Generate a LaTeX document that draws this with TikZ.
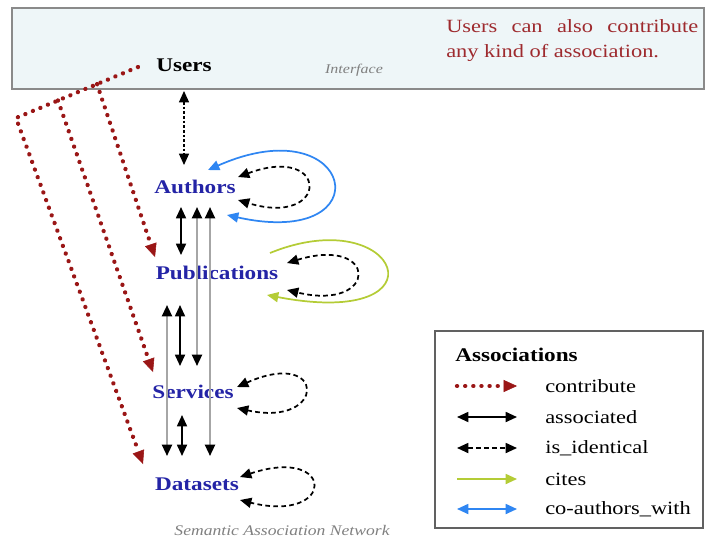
\documentclass[tikz,border=0pt]{standalone}
\usepackage{fontspec}
\setmainfont{Liberation Serif}[FakeStretch=1.2]
\usepackage{tikz}
\usetikzlibrary{calc,arrows.meta}
\definecolor{boxfill}{HTML}{EEF6F8}
\definecolor{boxline}{HTML}{8A8A8A}
\definecolor{entblue}{HTML}{2424A6}
\definecolor{notered}{HTML}{9E2A2E}
\definecolor{contribred}{HTML}{9A1616}
\definecolor{coblue}{HTML}{2F86F2}
\definecolor{citegreen}{HTML}{B4CC36}
\tikzset{
  >={Triangle[length=8.5pt,width=7.5pt]},
  entity/.style={font=\fontsize{14.5}{17}\selectfont\bfseries,text=entblue,inner sep=1pt},
  caption/.style={font=\fontsize{10}{12}\selectfont\itshape,text=gray},
  legend/.style={font=\fontsize{14}{17}\selectfont,anchor=west,inner sep=0pt},
  assoc/.style={<->,line width=1.3pt},
  assocgray/.style={{Triangle[length=8.5pt,width=7.5pt,color=black]}-{Triangle[length=8.5pt,width=7.5pt,color=black]},
    draw=gray!70,line width=1.6pt},
  isid/.style={<->,line width=1.3pt,dash pattern=on 3.5pt off 2.5pt},
  userlink/.style={<->,line width=0.9pt,dash pattern=on 2pt off 1.5pt},
  cites/.style={->,draw=citegreen,line width=1.3pt},
  coauth/.style={<->,draw=coblue,line width=1.3pt},
  contrib/.style={-{Triangle[length=10pt,width=9pt,line width=0.4pt]},draw=contribred,
    line width=3.2pt,line cap=round,dash pattern=on 0.1pt off 6pt}
}

\begin{document}
\begin{tikzpicture}[x=0.75pt,y=-0.75pt]
  \useasboundingbox (0,0) rectangle (705,540);
  % interface layer
  \draw[boxline,fill=boxfill,line width=0.8pt] (12,8) rectangle (704,89);
  \node[font=\fontsize{14.5}{17}\selectfont\bfseries,inner sep=1pt] (users) at (184,65) {Users};
  \node[caption] (iface) at (354,70) {Interface};
  \node[anchor=north west,inner sep=0pt,text width=189pt,align=justify,text=notered,
    font=\fontsize{14}{18.75}\selectfont] (note) at (446,19)
    {Users can also contribute any kind of association.};

  % entities
  \node[entity] (auth) at (195,187) {Authors};
  \node[entity] (pub)  at (217,273) {Publications};
  \node[entity] (serv) at (193,392) {Services};
  \node[entity] (data) at (197,484) {Datasets};
  \node[caption,font=\fontsize{11}{13}\selectfont\itshape] (san) at (282,530) {Semantic Association Network};

  % users <-> authors
  \draw[userlink] ($(users)+(0,26)$) -- ($(auth)+(-11,-22)$);

  % contribute
  \coordinate (ustart) at ($(users)+(-46,2)$);
  \coordinate (bend) at (16,118);
  \draw[contrib] (ustart) -- (bend) -- ($(data)+(-54,-20)$);
  \draw[contrib] ($(ustart)!0.336!(bend)$) -- ($(pub)+(-62,-16)$);
  \draw[contrib] ($(ustart)!0.656!(bend)$) -- ($(serv)+(-40,-20)$);

  % associated
  \draw[assoc] ($(auth)+(-14,20)$) -- ($(pub)+(-36,-18)$);
  \draw[assocgray] ($(auth)+(2,20)$) -- ($(serv)+(4,-26)$);
  \draw[assocgray] ($(auth)+(15,20)$) -- ($(data)+(13,-28)$);
  \draw[assocgray] ($(pub)+(-50,32)$) -- ($(data)+(-30,-28)$);
  \draw[assoc] ($(pub)+(-37,32)$) -- ($(serv)+(-13,-26)$);
  \draw[assoc] ($(serv)+(-11,23)$) -- ($(data)+(-15,-28)$);

  % self loops
  \draw[coauth] ($(auth)+(13,-17)$) .. controls +(147,-65) and +(158,35) .. ($(auth)+(32,28)$);
  \draw[isid] ($(auth)+(43,-10)$) .. controls +(92,-34) and +(92,28) .. ($(auth)+(43,13)$);
  \draw[cites] ($(pub)+(53,-20)$) .. controls +(130,-53) and +(183,35) .. ($(pub)+(50,22)$);
  \draw[isid] ($(pub)+(70,-10)$) .. controls +(92,-28) and +(92,22) .. ($(pub)+(70,17)$);
  \draw[isid] ($(serv)+(44,-5)$) .. controls +(90,-40) and +(90,20) .. ($(serv)+(44,16)$);
  \draw[isid] ($(data)+(43,-7)$) .. controls +(96,-32) and +(96,24) .. ($(data)+(43,16)$);

  % legend
  \draw[boxline!70!black,fill=white,line width=0.9pt] (435,331) rectangle (703,528);
  \node[legend,font=\fontsize{14.5}{17}\selectfont\bfseries] (legtitle) at (455,355) {Associations};
  \foreach \y/\st/\lab [count=\i] in {386/contrib/contribute,417/assoc/associated,
      448/isid/is\_identical,479/cites/cites,509/coauth/co-authors\_with}{
    \node[legend] (leg\i) at (545,\y) {\lab};
    \draw[\st] (457,\y) -- (517,\y);
  }
\end{tikzpicture}
\end{document}
